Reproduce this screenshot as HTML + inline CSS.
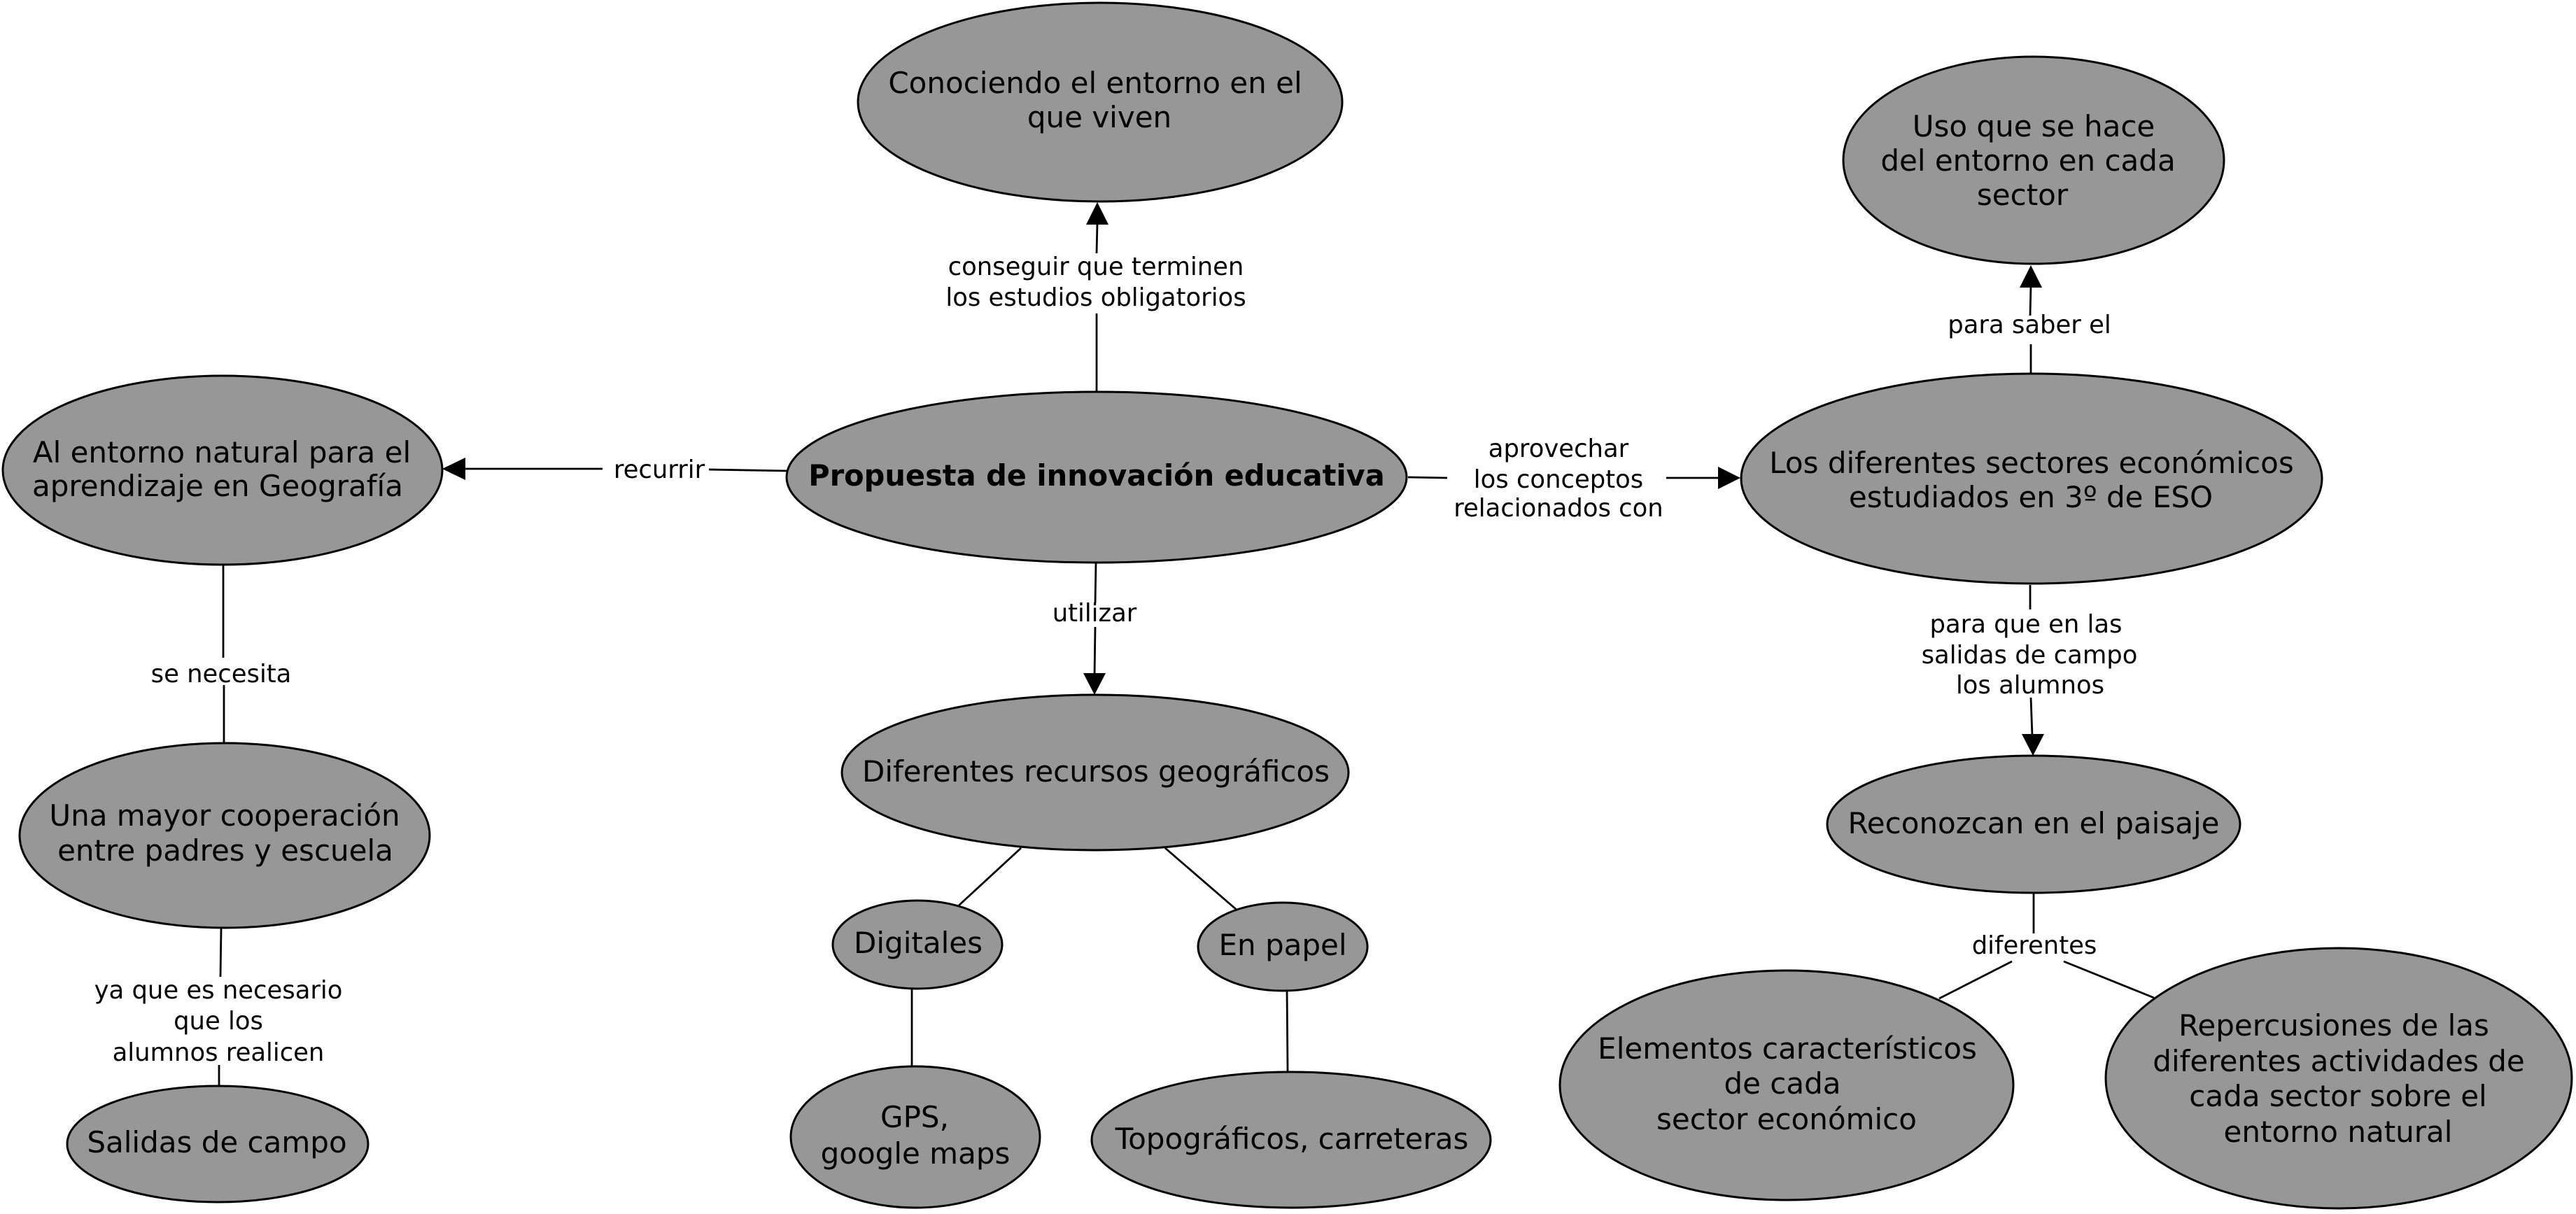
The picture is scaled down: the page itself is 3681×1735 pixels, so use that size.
<!DOCTYPE html>
<html>
<head>
<meta charset="utf-8">
<style>
html,body{margin:0;padding:0;background:#fff;}
svg{display:block;}
.n{font-family:"DejaVu Sans","Liberation Sans",sans-serif;font-size:42px;fill:#000;text-anchor:middle;}
.b{font-weight:bold;font-size:41.5px;}
.l{font-family:"DejaVu Sans","Liberation Sans",sans-serif;font-size:35.4px;fill:#000;text-anchor:middle;}
ellipse{fill:#979797;stroke:#000;stroke-width:3;}
line{stroke:#000;stroke-width:2.8;}
polygon{fill:#000;}
</style>
</head>
<body>
<svg width="3681" height="1735" viewBox="0 0 3681 1735" xmlns="http://www.w3.org/2000/svg">
<rect width="3681" height="1735" fill="#fff"/>

<!-- Propuesta -> Conociendo -->
<line x1="1567" y1="560" x2="1567" y2="448"/>
<line x1="1567" y1="362" x2="1568" y2="318"/>
<polygon points="1568,289 1552,321 1584,321"/>
<text class="l" x="1566" y="393">conseguir que terminen</text>
<text class="l" x="1566" y="437">los estudios obligatorios</text>

<!-- Propuesta -> Al entorno -->
<line x1="1127" y1="673" x2="1013" y2="671"/>
<line x1="861" y1="670" x2="662" y2="670"/>
<polygon points="632,670 665,654 665,686"/>
<text class="l" x="942" y="683">recurrir</text>

<!-- Propuesta -> Los diferentes -->
<line x1="2012" y1="682" x2="2068" y2="683"/>
<line x1="2381" y1="683" x2="2459" y2="683"/>
<polygon points="2487,683 2455,667 2455,699"/>
<text class="l" x="2227" y="653">aprovechar</text>
<text class="l" x="2227" y="697">los conceptos</text>
<text class="l" x="2227" y="738">relacionados con</text>

<!-- Propuesta -> Diferentes recursos -->
<line x1="1566" y1="804" x2="1565" y2="862"/>
<line x1="1565" y1="896" x2="1564" y2="966"/>
<polygon points="1564,993 1548,962 1580,962"/>
<text class="l" x="1564" y="888">utilizar</text>

<!-- Los diferentes -> Uso -->
<line x1="2902" y1="534" x2="2902" y2="492"/>
<line x1="2901" y1="451" x2="2902" y2="408"/>
<polygon points="2902,379 2886,411 2918,411"/>
<text class="l" x="2900" y="476">para saber el</text>

<!-- Los diferentes -> Reconozcan -->
<line x1="2901" y1="836" x2="2901" y2="871"/>
<line x1="2902" y1="997" x2="2904" y2="1052"/>
<polygon points="2905,1080 2889,1049 2921,1049"/>
<text class="l" x="2895" y="904">para que en las</text>
<text class="l" x="2900" y="948">salidas de campo</text>
<text class="l" x="2901" y="991">los alumnos</text>

<!-- Al entorno -> Una mayor -->
<line x1="319" y1="807" x2="319" y2="940"/>
<line x1="320" y1="979" x2="320" y2="1062"/>
<text class="l" x="316" y="975">se necesita</text>

<!-- Una mayor -> Salidas -->
<line x1="316" y1="1327" x2="315" y2="1396"/>
<line x1="313" y1="1522" x2="313" y2="1553"/>
<text class="l" x="312" y="1427">ya que es necesario</text>
<text class="l" x="312" y="1471">que los</text>
<text class="l" x="312" y="1516">alumnos realicen</text>

<!-- Diferentes recursos -> Digitales / En papel -->
<line x1="1459" y1="1212" x2="1369" y2="1295"/>
<line x1="1665" y1="1212" x2="1768" y2="1301"/>
<line x1="1303" y1="1413" x2="1303" y2="1524"/>
<line x1="1839" y1="1416" x2="1840" y2="1532"/>

<!-- Reconozcan -> diferentes -->
<line x1="2906" y1="1277" x2="2906" y2="1334"/>
<text class="l" x="2907" y="1363">diferentes</text>
<line x1="2875" y1="1374" x2="2771" y2="1427"/>
<line x1="2949" y1="1374" x2="3078" y2="1426"/>

<!-- nodes -->
<ellipse cx="1572" cy="146" rx="346" ry="142"/>
<text class="n" x="1565" y="133">Conociendo el entorno en el</text>
<text class="n" x="1571" y="182">que viven</text>

<ellipse cx="318" cy="672" rx="314" ry="135"/>
<text class="n" x="317" y="661">Al entorno natural para el</text>
<text class="n" x="311" y="709">aprendizaje en Geografía</text>

<ellipse cx="1567" cy="682" rx="443" ry="122"/>
<text class="n b" x="1567" y="694">Propuesta de innovación educativa</text>

<ellipse cx="2906" cy="229" rx="272" ry="148"/>
<text class="n" x="2906" y="195">Uso que se hace</text>
<text class="n" x="2898" y="244">del entorno en cada</text>
<text class="n" x="2890" y="293">sector</text>

<ellipse cx="2903" cy="684" rx="415" ry="150"/>
<text class="n" x="2903" y="676">Los diferentes sectores económicos</text>
<text class="n" x="2902" y="725">estudiados en 3º de ESO</text>

<ellipse cx="321" cy="1194" rx="293" ry="132"/>
<text class="n" x="321" y="1180">Una mayor cooperación</text>
<text class="n" x="322" y="1230">entre padres y escuela</text>

<ellipse cx="311" cy="1635" rx="215" ry="83"/>
<text class="n" x="310" y="1647">Salidas de campo</text>

<ellipse cx="1565" cy="1104" rx="362" ry="111"/>
<text class="n" x="1566" y="1117">Diferentes recursos geográficos</text>

<ellipse cx="1311" cy="1350" rx="121" ry="63"/>
<text class="n" x="1312" y="1362">Digitales</text>

<ellipse cx="1833" cy="1353" rx="121" ry="63"/>
<text class="n" x="1833" y="1365">En papel</text>

<ellipse cx="1308" cy="1625" rx="178" ry="101"/>
<text class="n" x="1307" y="1611">GPS,</text>
<text class="n" x="1308" y="1663">google maps</text>

<ellipse cx="1845" cy="1629" rx="285" ry="97"/>
<text class="n" x="1846" y="1642">Topográficos, carreteras</text>

<ellipse cx="2906" cy="1178" rx="295" ry="98"/>
<text class="n" x="2906" y="1191">Reconozcan en el paisaje</text>

<ellipse cx="2553" cy="1551" rx="324" ry="164"/>
<text class="n" x="2554" y="1513">Elementos característicos</text>
<text class="n" x="2547" y="1563">de cada</text>
<text class="n" x="2553" y="1614">sector económico</text>

<ellipse cx="3342" cy="1541" rx="333" ry="186"/>
<text class="n" x="3335" y="1480">Repercusiones de las</text>
<text class="n" x="3342" y="1531">diferentes actividades de</text>
<text class="n" x="3341" y="1581">cada sector sobre el</text>
<text class="n" x="3341" y="1632">entorno natural</text>
</svg>
</body>
</html>
